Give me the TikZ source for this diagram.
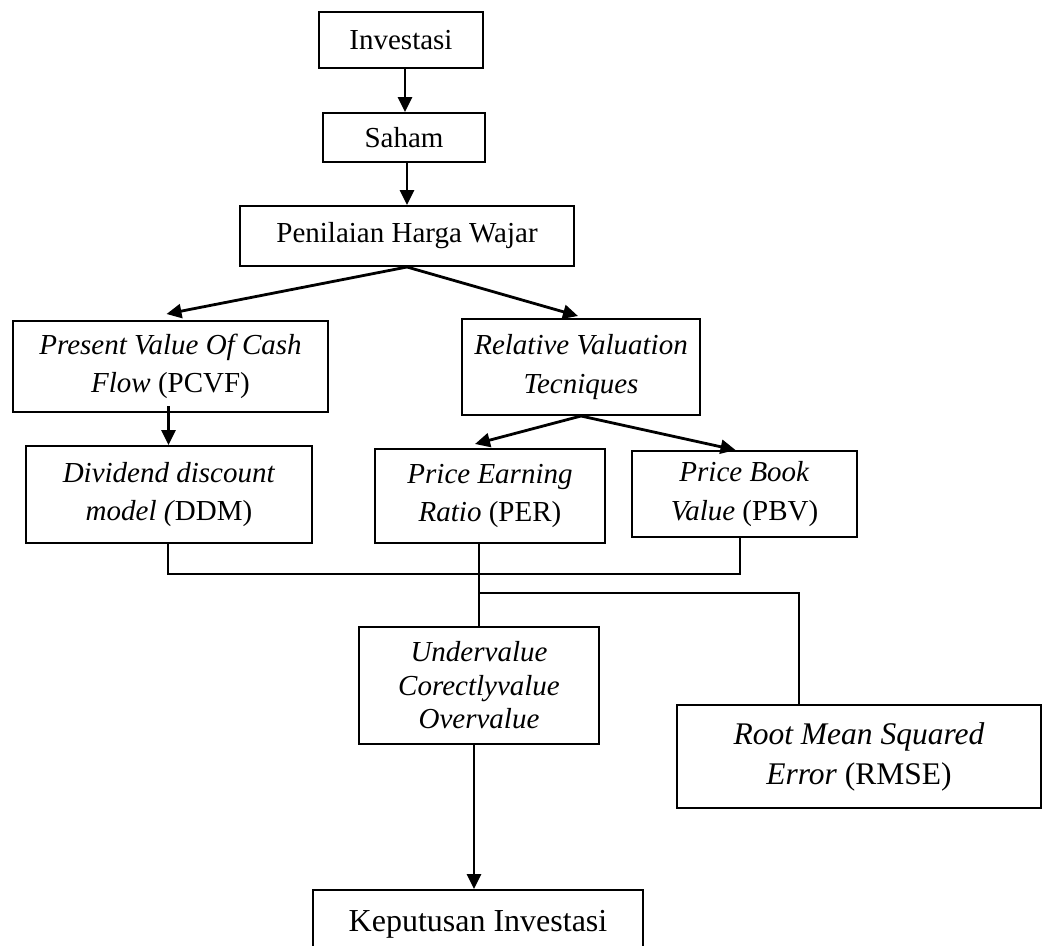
\documentclass[tikz,border=0pt]{standalone}
\usepackage{fontspec}
\setmainfont{Liberation Serif}
\usetikzlibrary{arrows.meta}
\tikzset{
  box/.style={draw, line width=2pt, inner sep=0pt, align=center,
    font=\fontsize{29}{38.5}\selectfont},
  arr/.style={line width=2.8pt, -{Triangle[length=15pt,width=14pt]}},
  wire/.style={line width=2pt},
}
\begin{document}
\begin{tikzpicture}[x=1pt,y=-1pt]
\clip (0,0) rectangle (1043,945);
\useasboundingbox (0,0) rectangle (1043,945);
% nodes
\node[box, minimum width=164pt, minimum height=56pt] (inv) at (401,40) {Investasi};
\node[box, minimum width=162pt, minimum height=49pt] (saham) at (404,137.5) {Saham};
\node[box, minimum width=334pt, minimum height=60pt] (pen) at (407,236) {Penilaian Harga Wajar};
\node[box, minimum width=315pt, minimum height=91pt] (pcvf) at (170.5,366.5) {\textit{Present Value Of Cash}\\\textit{Flow} (PCVF)};
\node[box, minimum width=238pt, minimum height=96pt] (rvt) at (581,367) {\textit{Relative Valuation}\\\textit{Tecniques}};
\node[box, minimum width=286pt, minimum height=97pt] (ddm) at (169,494.5) {\textit{Dividend discount}\\\textit{model (}DDM)};
\node[box, minimum width=230pt, minimum height=94pt] (per) at (490,496) {\textit{Price Earning}\\\textit{Ratio} (PER)};
\node[box, minimum width=225pt, minimum height=86pt] (pbv) at (744.5,494) {\textit{Price Book}\\\textit{Value} (PBV)};
\node[box, minimum width=240pt, minimum height=117pt, font=\fontsize{29}{33.5}\selectfont] (und) at (479,685.5) {\textit{Undervalue}\\\textit{Corectlyvalue}\\\textit{Overvalue}};
\node[box, minimum width=364pt, minimum height=103pt, font=\fontsize{31.5}{40}\selectfont] (rmse) at (859,756.5) {\textit{Root Mean Squared}\\\textit{Error} (RMSE)};
\node[box, minimum width=330pt, minimum height=100pt, text height=22pt, text depth=40pt, font=\fontsize{32}{38}\selectfont] (kep) at (478,940) {Keputusan Investasi};
% arrows
\draw[arr] ([xshift=4pt]inv.south) -- ([xshift=4pt]inv.south |- saham.north);
\draw[arr] ([xshift=3pt]saham.south) -- ([xshift=3pt]saham.south |- pen.north);
\draw[arr] (pen.south) -- ([xshift=-4pt,yshift=6pt]pcvf.north);
\draw[arr] (pen.south) -- ([xshift=-3pt,yshift=2pt]rvt.north);
\draw[arr] ([xshift=-2pt,yshift=7pt]pcvf.south) -- ([xshift=-2pt]pcvf.south |- ddm.north);
\draw[arr] (rvt.south) -- ([xshift=-15pt,yshift=4pt]per.north);
\draw[arr] (rvt.south) -- ([xshift=-9pt]pbv.north);
\draw[arr] ([xshift=-5pt]und.south) -- ([xshift=-5pt]und.south |- kep.north);
% wires
\coordinate (busA) at (0,574);
\coordinate (busB) at (0,593);
\draw[wire] ([xshift=-1pt]ddm.south) |- ([xshift=-5pt]pbv.south |- busA) -- ([xshift=-5pt]pbv.south);
\draw[wire] (und.north |- per.south) -- (und.north);
\draw[wire] (und.north |- busB) -| ([xshift=-60pt]rmse.north);
\end{tikzpicture}
\end{document}
